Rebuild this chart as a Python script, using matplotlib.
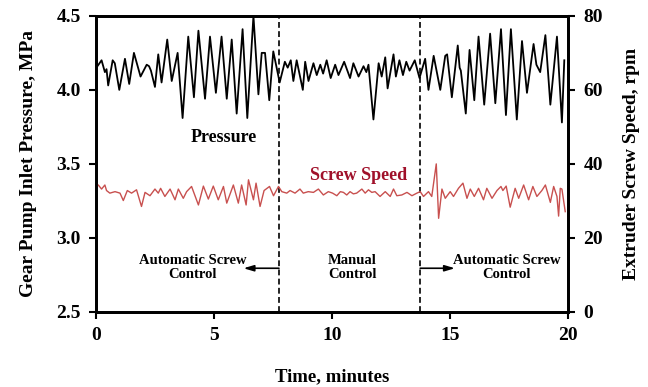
import matplotlib
matplotlib.use("Agg")
import matplotlib.pyplot as plt

plt.rcParams['font.family'] = ['Liberation Serif', 'DejaVu Serif']
plt.rcParams['font.weight'] = 'bold'

# Pressure (MPa) vs time (min)
p_time = [0.02, 0.24, 0.38, 0.45, 0.52, 0.71, 0.80, 0.99, 1.23, 1.41, 1.61, 1.89, 2.15, 2.25, 2.33,
          2.50, 2.64, 2.78, 3.02, 3.21, 3.46, 3.67, 3.91, 4.15, 4.34, 4.62, 4.83, 5.08, 5.32, 5.54,
          5.75, 5.96, 6.21, 6.41, 6.67, 6.88, 7.02, 7.16, 7.34, 7.51, 7.78, 8.00, 8.12, 8.25, 8.36,
          8.50, 8.76, 8.86, 9.00, 9.21, 9.35, 9.50, 9.62, 9.77, 9.94, 10.13, 10.27, 10.51, 10.76,
          10.90, 11.12, 11.33, 11.45, 11.54, 11.75, 11.97, 12.10, 12.25, 12.35, 12.60, 12.70, 12.85,
          13.00, 13.14, 13.28, 13.50, 13.70, 13.94, 14.08, 14.30, 14.58, 14.79, 14.87, 15.07, 15.32,
          15.40, 15.45, 15.66, 15.82, 16.02, 16.20, 16.44, 16.69, 16.91, 17.15, 17.36, 17.57, 17.82,
          18.04, 18.25, 18.53, 18.65, 18.81, 19.03, 19.24, 19.52, 19.73, 19.83]
pressure = [4.15, 4.20, 4.12, 4.14, 4.03, 4.20, 4.18, 4.00, 4.21, 4.04, 4.25, 4.09, 4.17, 4.16, 4.13,
            4.02, 4.24, 4.05, 4.34, 4.06, 4.25, 3.81, 4.36, 3.95, 4.40, 3.94, 4.36, 3.98, 4.36, 3.94,
            4.34, 3.84, 4.41, 3.81, 4.50, 3.97, 4.25, 4.25, 3.93, 4.26, 4.05, 4.19, 4.15, 4.20, 4.06,
            4.20, 4.00, 4.19, 4.06, 4.18, 4.10, 4.17, 4.11, 4.20, 4.08, 4.17, 4.10, 4.19, 4.08,
            4.18, 4.09, 4.16, 4.12, 4.17, 3.80, 4.18, 4.09, 4.22, 4.01, 4.24, 4.09, 4.20,
            4.10, 4.19, 4.13, 4.20, 4.08, 4.21, 4.00, 4.23, 4.00, 4.23, 4.24, 3.95, 4.30,
            4.15, 4.13, 3.84, 4.27, 3.93, 4.36, 3.90, 4.38, 3.91, 4.41, 3.83, 4.41, 3.80,
            4.33, 3.98, 4.31, 4.17, 4.12, 4.37, 3.90, 4.36, 3.78, 4.20]

# Screw speed (rpm) vs time (min)
s_time = [0.0, 0.10, 0.24, 0.38, 0.45, 0.59, 0.81, 1.02, 1.16, 1.33, 1.51, 1.72, 1.93, 2.08, 2.29,
          2.50, 2.64, 2.74, 2.92, 3.14, 3.35, 3.49, 3.70, 3.84, 4.05, 4.34, 4.55, 4.76, 4.97, 5.18,
          5.40, 5.54, 5.82, 6.03, 6.17, 6.36, 6.46, 6.67, 6.78, 6.95, 7.12, 7.35, 7.52, 7.73, 7.87,
          8.08, 8.22, 8.43, 8.64, 8.78, 8.99, 9.21, 9.42, 9.63, 9.84, 10.02, 10.2, 10.35, 10.48,
          10.62, 10.76, 10.9, 11.04, 11.26, 11.40, 11.54, 11.68, 11.82, 12.03, 12.25, 12.46, 12.6,
          12.74, 12.95, 13.17, 13.38, 13.59, 13.73, 13.87, 14.08, 14.22, 14.41, 14.51, 14.65, 14.79,
          15.0, 15.14, 15.35, 15.54, 15.71, 15.85, 16.02, 16.20, 16.41, 16.55, 16.77, 16.98, 17.15,
          17.23, 17.37, 17.54, 17.75, 17.9, 18.11, 18.32, 18.5, 18.67, 18.88, 19.03, 19.24, 19.38,
          19.52, 19.59, 19.66, 19.73, 19.87]
speed = [33.9, 34.3, 33.2, 34.3, 32.8, 32.1, 32.5, 32.1, 30.1, 32.8, 32.1, 33.0, 28.5, 32.3, 31.4,
         33.2, 32.1, 33.4, 31.2, 33.2, 30.3, 33.2, 30.7, 32.5, 33.9, 28.9, 34.0, 30.5, 34.0, 30.3,
         33.9, 29.4, 34.3, 29.4, 34.3, 28.9, 35.7, 30.3, 34.8, 28.5, 32.8, 33.9, 31.4, 33.9, 32.5,
         32.1, 32.8, 32.1, 33.2, 32.1, 32.5, 32.3, 33.2, 31.6, 32.5, 32.1, 31.4, 32.5, 32.3,
         31.6, 32.5, 31.9, 32.1, 33.2, 32.1, 33.0, 32.3, 32.5, 31.2, 32.5, 31.2, 33.2,
         31.4, 31.6, 32.3, 31.4, 32.1, 32.5, 31.2, 32.5, 31.2, 40.0, 25.3, 33.2, 30.7,
         32.5, 31.2, 33.4, 34.8, 30.7, 33.2, 31.2, 33.4, 30.3, 33.4, 30.7, 32.8, 33.9,
         32.8, 34.0, 28.3, 33.4, 30.7, 34.3, 30.3, 33.9, 31.2, 32.8, 34.3, 29.6, 33.9,
         31.2, 25.9, 33.4, 33.2, 27.1]

switch_times = [7.75, 13.73]
x_ticks = [0, 5, 10, 15, 20]
p_ticks = [2.5, 3.0, 3.5, 4.0, 4.5]
s_ticks = [0, 20, 40, 60, 80]

fig = plt.figure(figsize=(6.48, 3.87), dpi=100)
ax = fig.add_axes([0.148, 0.194, 0.729, 0.765])
ax2 = ax.twinx()

ax.plot(p_time, pressure, color='black', lw=1.3, solid_joinstyle='round')
ax2.plot(s_time, speed, color='#C8504F', lw=1.0, solid_joinstyle='round')

for t in switch_times:
    ax.axvline(t, color='black', lw=1.2, ls=(0, (3.5, 2)))

ax.set_xlim(0, 20)
ax.set_ylim(2.5, 4.5)
ax2.set_ylim(0, 80)
ax.set_xticks(x_ticks)
ax.set_xticklabels([str(v) for v in x_ticks])
ax.set_yticks(p_ticks)
ax.set_yticklabels([f"{v:.1f}" for v in p_ticks])
ax2.set_yticks(s_ticks)
ax2.set_yticklabels([str(v) for v in s_ticks])

for a in (ax, ax2):
    for sp in a.spines.values():
        sp.set_linewidth(2.0)
    a.tick_params(direction='out', length=5, width=1.5, labelsize=14, pad=6)
    for lab in a.get_xticklabels() + a.get_yticklabels():
        lab.set_fontweight('bold')

ax.set_xlabel("Time, minutes", fontsize=13.5, fontweight='bold', labelpad=17)
ax.set_ylabel("Gear Pump Inlet Pressure, MPa", fontsize=14, fontweight='bold', labelpad=14)
ax2.set_ylabel("Extruder Screw Speed, rpm", fontsize=14, fontweight='bold', labelpad=14)

ax.text(5.4, 3.68, "Pressure", fontsize=13, fontweight='bold', ha='center', va='center')
ax.text(11.1, 3.42, "Screw Speed", fontsize=13, fontweight='bold', ha='center', va='center',
        color='#A0102A')

ann_kw = dict(fontsize=10.5, fontweight='bold', ha='center', va='center', linespacing=1.15)
ax.text(4.1, 2.80, "Automatic Screw\nControl", **ann_kw)
ax.text(10.85, 2.80, "Manual\nControl", **ann_kw)
ax.text(17.4, 2.80, "Automatic Screw\nControl", **ann_kw)

arrow = dict(arrowstyle='-|>,head_length=0.6,head_width=0.18', color='black', lw=1.2,
             shrinkA=0, shrinkB=0)
ax.annotate("", xy=(6.25, 2.795), xytext=(switch_times[0], 2.795), arrowprops=arrow)
ax.annotate("", xy=(15.2, 2.795), xytext=(switch_times[1], 2.795), arrowprops=arrow)

fig.savefig("out.png", dpi=100)
